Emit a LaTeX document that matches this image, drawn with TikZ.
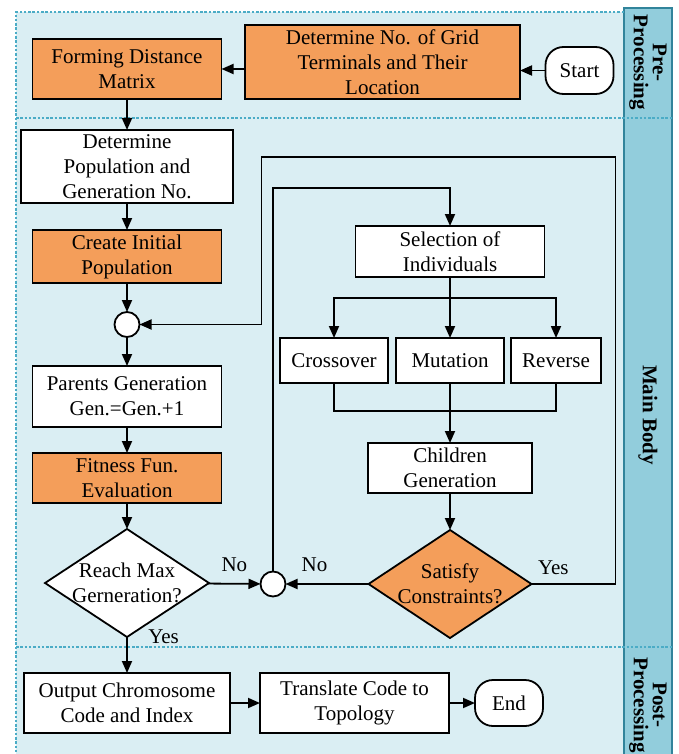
\documentclass[tikz,border=0pt]{standalone}
\usepackage{fontspec}
\setmainfont{Liberation Serif}
\usepackage{tikz}
\usetikzlibrary{arrows.meta,positioning,shapes.geometric,calc}
\definecolor{orng}{HTML}{F49E5A}
\definecolor{secbg}{HTML}{DAEEF3}
\definecolor{bandbg}{HTML}{92CDDC}
\definecolor{bandline}{HTML}{31849B}
\definecolor{secdash}{HTML}{4BACC6}

\begin{document}
\begin{tikzpicture}[
    x=1pt, y=-1pt,
    font=\fontsize{21}{25}\selectfont,
    every node/.style={outer sep=0pt},
    block/.style={rectangle, draw, line width=1.8pt, align=center, fill=white,
                  inner ysep=2pt, minimum width=189pt},
    term/.style={rectangle, draw, line width=1.8pt, rounded corners=18pt, fill=white,
                 minimum width=68pt, minimum height=47pt},
    decision/.style={diamond, draw, line width=1.8pt, align=center, aspect=1.5,
                     inner xsep=-10pt, inner ysep=0pt,
                     minimum width=164pt, minimum height=108pt},
    junction/.style={circle, draw, line width=1.8pt, fill=white,
                     minimum size=25pt, inner sep=0pt},
    arrow/.style={-{Triangle[length=12pt,width=10pt]}, line width=1.8pt},
    line/.style={line width=1.8pt},
    secline/.style={secdash, line width=1.3pt, dash pattern=on 2.5pt off 1.8pt},
    seclbl/.style={font=\fontsize{21}{19}\selectfont\bfseries, rotate=-90, align=center}
]
\useasboundingbox (0,0) rectangle (678,754);
\fill[secbg] (16,12) rectangle (672,760);
\draw[bandline, fill=bandbg, line width=1.5pt] (624,8) rectangle (672,760);
\draw[secline] (624,12) -- (16,12) -- (16,760);
\draw[secline] (16,118) -- (672,118);
\draw[secline] (16,647) -- (672,647);

\node[seclbl] (lpre)  at (648,62.5) {Pre-\\Processing};
\node[seclbl] (lmain) at (648,415)  {Main Body};
\node[seclbl] (lpost) at (648,705)  {Post-\\Processing};

\node[term] (start) at (579.5,70.5) {Start};
\node[block, fill=orng, minimum width=275pt, minimum height=74pt] (grid) at (382.5,62)
    {Determine No. of Grid\\Terminals and Their\\Location};
\node[block, fill=orng, minimum height=60pt] (dist) at (127,69) {Forming Distance\\Matrix};

\node[block, minimum width=212pt, minimum height=73pt, below=31pt of dist] (popu)
    {Determine\\Population and\\Generation No.};
\node[block, fill=orng, minimum height=53pt, below=27pt of popu] (init) {Create Initial\\Population};
\node[junction, below=29pt of init] (jn1) {};
\node[block, minimum height=61pt, below=29pt of jn1] (parent) {Parents Generation\\Gen.=Gen.+1};
\node[block, fill=orng, minimum height=50pt, below=26pt of parent] (fit) {Fitness Fun.\\Evaluation};
\node[decision, fill=white, below=26pt of fit] (maxgen) {Reach Max\\Gerneration?};
\node[block, minimum width=206pt, minimum height=60pt, below=36pt of maxgen] (output)
    {Output Chromosome\\Code and Index};
\node[block, minimum height=60pt, right=30pt of output] (trans) {Translate Code to\\Topology};
\node[term, minimum height=46pt, right=26pt of trans] (finish) {End};

\node[block, minimum width=108pt, minimum height=45pt] (mut) at (450,360.5) {Mutation};
\node[block, minimum width=108pt, minimum height=45pt, left=8pt of mut] (cross) {Crossover};
\node[block, minimum width=90pt, minimum height=45pt, right=7pt of mut] (rev) {Reverse};
\node[block, minimum height=51pt, above=61pt of mut] (select) {Selection of\\Individuals};
\node[block, minimum width=164pt, minimum height=50pt, below=60pt of mut] (child) {Children\\Generation};
\node[decision, fill=orng, minimum width=163pt, below=37pt of child] (satis) {Satisfy\\Constraints?};
\node[junction, left=83pt of satis] (jn2) {};

\draw[arrow] (start) -- (start -| grid.east);
\draw[arrow] (grid.west |- dist) -- (dist);
\draw[arrow] (dist) -- (popu);
\draw[arrow] (popu) -- (init);
\draw[arrow] (init) -- (jn1);
\draw[arrow] (jn1) -- (parent);
\draw[arrow] (parent) -- (fit);
\draw[arrow] (fit) -- (maxgen);
\draw[arrow] (maxgen) -- node[pos=0, right=18pt]{Yes} (output);
\draw[arrow] (output) -- (trans);
\draw[arrow] (trans) -- (finish);
\draw[arrow] (maxgen) -- node[above=9pt]{No} (jn2);
\draw[arrow] (satis) -- node[pos=.65, above=9pt]{No} (jn2);
\draw[arrow] (jn2) |- ($(select.north)+(0,-38)$) -- (select);
\draw[arrow] (satis.east) -- node[pos=.26, above=6pt]{Yes} ++(84,0)
    |- ($(jn1)+(134.5,-167.5)$) |- (jn1);
\draw[arrow] (select) -- (mut);
\draw[arrow] (select.south) -- ++(0,21) -| (cross);
\draw[arrow] (select.south) -- ++(0,21) -| (rev);
\draw[line] (cross) |- ($(mut.south)+(0,28)$) -| (rev);
\draw[arrow] (mut) -- (child);
\draw[arrow] (child) -- (satis);
\end{tikzpicture}
\end{document}
